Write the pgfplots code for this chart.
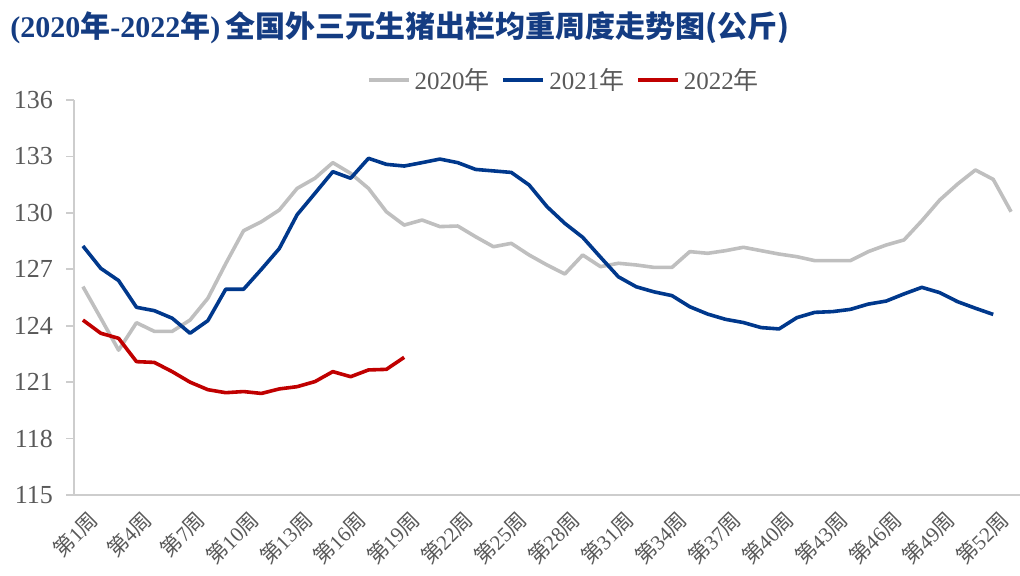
\documentclass[border=0pt]{standalone}
\usepackage{fontspec}
\setmainfont{Liberation Serif}
\newfontfamily\cjk{Noto Sans CJK SC}
\usepackage{pgfplots}
\pgfplotsset{compat=1.18}
\definecolor{c2020}{RGB}{191,191,191}
\definecolor{c2021}{RGB}{0,56,140}
\definecolor{c2022}{RGB}{192,0,0}
\definecolor{titleblue}{RGB}{20,60,130}
\definecolor{axgray}{RGB}{205,205,205}
\definecolor{txtgray}{RGB}{89,89,89}
\newcommand{\wk}[1]{{\cjk 第}#1{\cjk 周}}
\newcommand{\nian}{{\cjk 年}}

\begin{document}
\begin{tikzpicture}
\useasboundingbox (0,0) rectangle (510pt,287.5pt);
\node[anchor=west, text=titleblue, inner sep=0pt,
      font=\bfseries\fontsize{15}{17}\selectfont] at (5pt,273.5pt)
  {(2020\nian-2022\nian)\,{\cjk 全国外三元生猪出栏均重周度走势图(公斤)}};
\begin{axis}[
    at={(37pt,40pt)}, anchor=south west,
    scale only axis,
    width=473pt, height=197.5pt,
    xmin=0.5, xmax=53.5,
    ymin=115, ymax=136,
    ytick={115,118,121,124,127,130,133,136},
    xtick={1,4,...,52},
    xticklabels={\wk{1},\wk{4},\wk{7},\wk{10},\wk{13},\wk{16},\wk{19},\wk{22},\wk{25},\wk{28},\wk{31},\wk{34},\wk{37},\wk{40},\wk{43},\wk{46},\wk{49},\wk{52}},
    minor xtick={0.5,2.5,...,52.5},
    axis x line*=bottom,
    axis y line*=left,
    axis line style={axgray, line width=1pt},
    tick align=outside,
    major tick length=4pt,
    minor tick length=3pt,
    xtick style={draw=none},
    ytick style={axgray, line width=0.8pt},
    minor x tick style={axgray, line width=0.8pt},
    /pgf/number format/assume math mode=true,
    ticklabel style={text=txtgray},
    yticklabel style={font=\fontsize{13}{13}\selectfont, xshift=-3pt},
    xticklabel style={rotate=45, anchor=north east, font=\fontsize{10.5}{11}\selectfont, xshift=3pt, yshift=0pt},
    legend columns=3,
    legend style={at={(0.519,1.05)}, anchor=center, draw=none, fill=none,
                  font=\fontsize{12.5}{13}\selectfont, text=txtgray,
                  /tikz/every even column/.append style={column sep=4pt}},
    legend image code/.code={\draw[#1] (0pt,0pt) -- (20pt,0pt);},
    every axis plot/.append style={line width=1.8pt, line join=round},
]
\addplot[color=c2020, no marks] table {
1 126.08
2 124.4
3 122.7
4 124.16
5 123.7
6 123.7
7 124.3
8 125.46
9 127.3
10 129.05
11 129.53
12 130.15
13 131.3
14 131.84
15 132.67
16 132.1
17 131.3
18 130.06
19 129.35
20 129.62
21 129.27
22 129.3
23 128.73
24 128.2
25 128.38
26 127.76
27 127.23
28 126.75
29 127.76
30 127.14
31 127.32
32 127.23
33 127.1
34 127.1
35 127.94
36 127.85
37 127.99
38 128.17
39 127.99
40 127.81
41 127.67
42 127.46
43 127.46
44 127.46
45 127.94
46 128.29
47 128.56
48 129.58
49 130.68
50 131.53
51 132.28
52 131.78
53 130.06
};
\addlegendentry{2020\nian}
\addplot[color=c2021, no marks] table {
1 128.24
2 127.05
3 126.4
4 124.98
5 124.8
6 124.4
7 123.6
8 124.27
9 125.94
10 125.94
11 127.0
12 128.1
13 129.9
14 131.04
15 132.19
16 131.84
17 132.9
18 132.58
19 132.49
20 132.67
21 132.86
22 132.67
23 132.31
24 132.23
25 132.15
26 131.48
27 130.33
28 129.44
29 128.7
30 127.64
31 126.6
32 126.07
33 125.8
34 125.6
35 125.01
36 124.62
37 124.34
38 124.17
39 123.9
40 123.83
41 124.43
42 124.71
43 124.75
44 124.87
45 125.15
46 125.31
47 125.69
48 126.04
49 125.76
50 125.28
51 124.93
52 124.6
};
\addlegendentry{2021\nian}
\addplot[color=c2022, no marks] table {
1 124.3
2 123.6
3 123.33
4 122.09
5 122.05
6 121.56
7 121.0
8 120.6
9 120.44
10 120.5
11 120.4
12 120.64
13 120.76
14 121.03
15 121.56
16 121.29
17 121.65
18 121.68
19 122.32
};
\addlegendentry{2022\nian}
\end{axis}
\end{tikzpicture}
\end{document}
